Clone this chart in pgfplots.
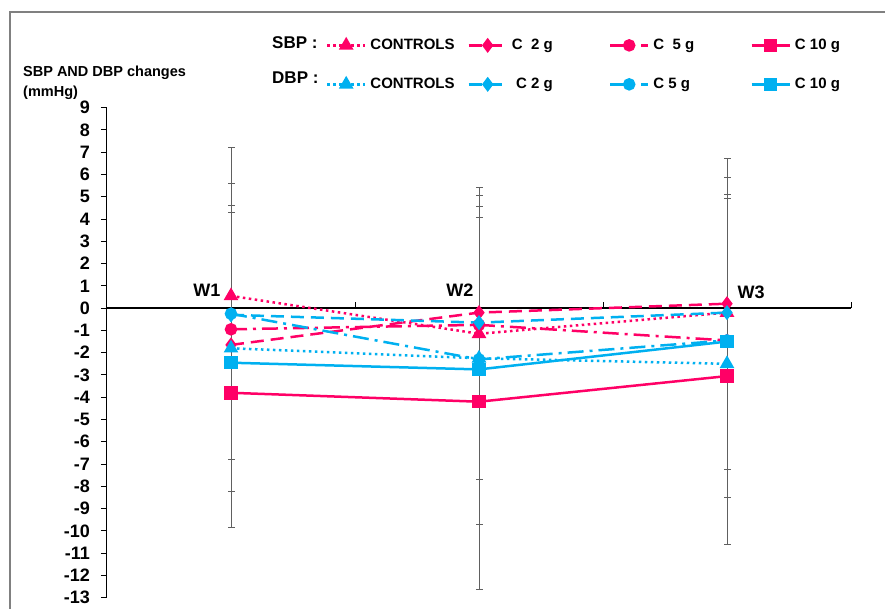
\documentclass[border=0pt]{standalone}
\usepackage{fontspec}
\setmainfont{Liberation Sans}
\usepackage{pgfplots}
\pgfplotsset{compat=1.18}
\definecolor{sbp}{HTML}{FF0066}
\definecolor{dbp}{HTML}{00B0F0}
\definecolor{errc}{HTML}{606060}
\definecolor{framec}{HTML}{808080}
\pgfplotsset{
 errp/.style={errc, line width=1pt, forget plot, only marks, mark=none,
   error bars/.cd, y dir=#1, y explicit, error mark=none,
   error bar style={draw=errc, line width=1pt, solid}},
}
\begin{document}
\begin{tikzpicture}
\useasboundingbox (-107pt,-10.3pt) rectangle (778pt,597.7pt);
\draw[framec, line width=1.5pt] (-97pt,-30pt) -- (-97pt,585.7pt) -- (800pt,585.7pt);
\begin{axis}[
 at={(0pt,0pt)}, anchor=south west,
 scale only axis, width=744pt, height=490pt,
 xmin=0.5, xmax=3.5, ymin=-13, ymax=9,
 axis x line=none, axis y line=left,
 axis line style={-, line width=1pt, black},
 ytick={-13,...,9}, xtick=\empty,
 tick align=outside, major tick length=6pt,
 ytick style={line width=1pt, black},
 yticklabel style={font=\bfseries\fontsize{18}{18}\selectfont, inner sep=0pt, xshift=-11pt},
 /pgf/number format/assume math mode=true,
 clip=false,
 legend columns=4,
 legend style={draw=none, fill=none, at={(0.290,1.148)}, anchor=north west,
   font=\bfseries\fontsize{15}{15}\selectfont,
   /tikz/every odd column/.append style={column sep=2pt},
   /tikz/every even column/.append style={column sep=8pt},
   row sep=23pt},
 legend image code/.code={\draw[mark repeat=2,mark phase=2,#1] plot coordinates {(0pt,0pt) (19pt,0pt) (38pt,0pt)};},
]
% x axis at zero
\draw[black, line width=2pt] (axis cs:0.5,0) -- (axis cs:3.5,0);
\draw[black, line width=1pt] (axis cs:1.5,0) -- ++(0pt,6pt);
\draw[black, line width=1pt] (axis cs:2.5,0) -- ++(0pt,6pt);
\draw[black, line width=1pt] (axis cs:3.5,0) -- ++(0pt,6pt);
% error bars SBP (plus)
\addplot[errp=plus] coordinates {(1,0.55) +- (0,6.65) (2,-1.15) +- (0,6.56) (3,-0.2) +- (0,6.91)};
\addplot[errp=plus] coordinates {(1,-1.65) +- (0,6.28) (2,-0.2) +- (0,5.26) (3,0.2) +- (0,5.68)};
\addplot[errp=plus] coordinates {(1,-0.95) +- (0,6.56) (2,-0.75) +- (0,5.33) (3,-1.45) +- (0,6.56)};
\addplot[errp=plus] coordinates {(1,-3.8) +- (0,8.11) (2,-4.2) +- (0,8.29) (3,-3.05) +- (0,7.96)};
% error bars DBP (minus)
\addplot[errp=minus] coordinates {(1,-1.8) +- (0,4.99) (2,-2.25) +- (0,5.46) (3,-2.5) +- (0,4.76)};
\addplot[errp=minus] coordinates {(1,-0.3) +- (0,7.92) (2,-0.65) +- (0,9.05) (3,-0.2) +- (0,8.3)};
\addplot[errp=minus] coordinates {(1,-0.25) +- (0,9.58) (2,-2.3) +- (0,10.33) (3,-1.45) +- (0,9.15)};
% error bar caps (mean +/- error)
\addplot[forget plot, only marks, mark=-, mark size=3.5pt, mark options={errc, line width=1pt, solid}]
 coordinates {(1,7.2) (1,4.63) (1,5.61) (1,4.31) (2,5.41) (2,5.06) (2,4.58) (2,4.09) (3,6.71) (3,5.88) (3,5.11) (3,4.91)
              (1,-6.79) (1,-8.22) (1,-9.83) (2,-7.71) (2,-9.70) (2,-12.63) (3,-7.26) (3,-8.5) (3,-10.6)};
% SBP series
\addplot[sbp, line width=2.5pt, dash pattern=on 2.5pt off 3.5pt, mark=triangle*, mark size=6pt, mark options={solid}]
 coordinates {(1,0.55) (2,-1.15) (3,-0.2)};
\addlegendentry{\makebox[87pt][l]{CONTROLS}}
\addplot[sbp, line width=2.5pt, dash pattern=on 13pt off 7pt, mark=diamond*, mark size=5.5pt, mark options={solid}]
 coordinates {(1,-1.65) (2,-0.2) (3,0.2)};
\addlegendentry{\makebox[87pt][l]{C\ \ 2 g}}
\addplot[sbp, line width=2.5pt, dash pattern=on 16pt off 6pt on 3pt off 6pt, mark=*, mark size=5pt, mark options={solid}]
 coordinates {(1,-0.95) (2,-0.75) (3,-1.45)};
\addlegendentry{\makebox[87pt][l]{C\ \ 5 g}}
\addplot[sbp, line width=2.5pt, mark=square*, mark size=5.5pt, mark options={solid}]
 coordinates {(1,-3.8) (2,-4.2) (3,-3.05)};
\addlegendentry{\makebox[87pt][l]{C 10 g}}
% DBP series
\addplot[dbp, line width=2.5pt, dash pattern=on 2.5pt off 3.5pt, mark=triangle*, mark size=6pt, mark options={solid}]
 coordinates {(1,-1.8) (2,-2.25) (3,-2.5)};
\addlegendentry{\makebox[87pt][l]{CONTROLS}}
\addplot[dbp, line width=2.5pt, dash pattern=on 13pt off 7pt, mark=diamond*, mark size=5.5pt, mark options={solid}]
 coordinates {(1,-0.3) (2,-0.65) (3,-0.2)};
\addlegendentry{\makebox[87pt][l]{\ C 2 g}}
\addplot[dbp, line width=2.5pt, dash pattern=on 16pt off 6pt on 3pt off 6pt, mark=*, mark size=5pt, mark options={solid}]
 coordinates {(1,-0.25) (2,-2.3) (3,-1.45)};
\addlegendentry{\makebox[87pt][l]{C 5 g}}
\addplot[dbp, line width=2.5pt, mark=square*, mark size=5.5pt, mark options={solid}]
 coordinates {(1,-2.45) (2,-2.75) (3,-1.5)};
\addlegendentry{\makebox[87pt][l]{C 10 g}}
% category labels
\node[font=\bfseries\fontsize{18}{18}\selectfont] at (axis cs:0.903,0.79) {W1};
\node[font=\bfseries\fontsize{18}{18}\selectfont] at (axis cs:1.923,0.79) {W2};
\node[font=\bfseries\fontsize{18}{18}\selectfont] at (axis cs:3.097,0.70) {W3};
\end{axis}
\node[anchor=base west, inner sep=0pt, font=\bfseries\fontsize{14.5}{15}\selectfont] at (-84pt,520.7pt) {SBP AND DBP changes};
\node[anchor=base west, inner sep=0pt, font=\bfseries\fontsize{14.5}{15}\selectfont] at (-84pt,500.7pt) {(mmHg)};
\node[anchor=base west, inner sep=0pt, font=\bfseries\fontsize{17}{17}\selectfont] at (165pt,548.7pt) {SBP :};
\node[anchor=base west, inner sep=0pt, font=\bfseries\fontsize{17}{17}\selectfont] at (165pt,513.7pt) {DBP :};
\end{tikzpicture}
\end{document}
